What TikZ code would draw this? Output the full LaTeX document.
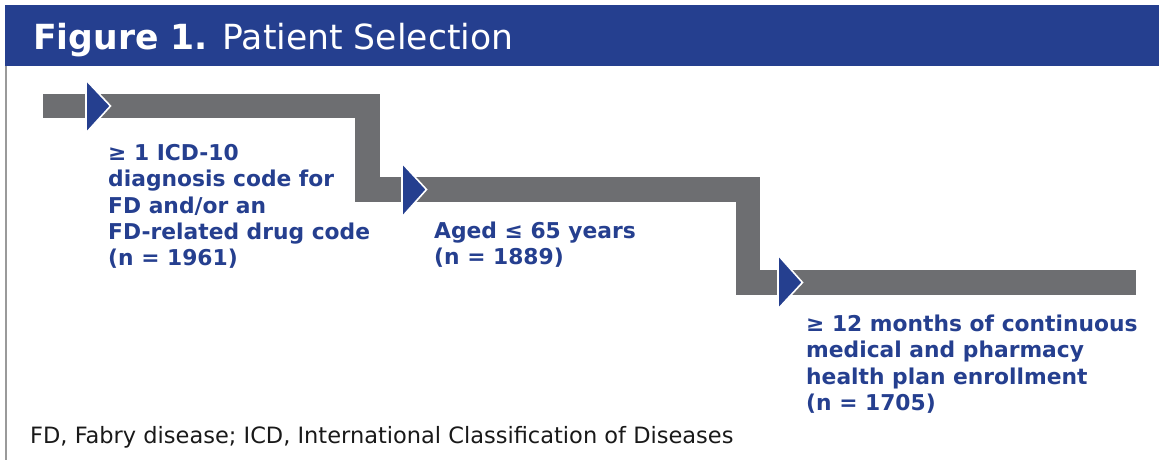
\documentclass[tikz,border=0pt]{standalone}
\usepackage{fontspec}
\setmainfont{DejaVu Sans}
\definecolor{bandblue}{HTML}{253F8F}
\definecolor{stepgray}{HTML}{6D6E71}
\definecolor{framegray}{HTML}{9A9A9A}
\begin{document}
\begin{tikzpicture}[x=1pt, y=-1pt,
	stepbar/.style={draw=stepgray, line width=24.5pt, line join=miter},
	pointer/.style={fill=bandblue, draw=white, line width=1.6pt, line join=miter},
	steptext/.style={anchor=north west, inner sep=0pt, align=left, text=bandblue,
		font=\bfseries\fontsize{21.8}{26.4}\selectfont}]
	\useasboundingbox (0,0) rectangle (1159,460);
	% Titelbalken
	\fill[bandblue] (5,5) rectangle (1159,66);
	\node[text=white, anchor=base west, inner sep=0pt] (title) at (33,50)
		{\fontsize{34.6}{40}\selectfont\textbf{Figure 1.} Patient Selection};
	% linker Rahmen
	\draw[framegray, line width=1.2pt] (6,66) -- (6,460);
	
	% Treppe (graue Balken)
	\draw[stepbar] (43,106) -- (367.5,106) -- (367.5,189.5) -- (748,189.5)
		-- (748,282.5) -- (1136,282.5);
	
	% Pfeile
	\filldraw[pointer] (86,80) -- (110.5,106) -- (86,133) -- cycle;
	\filldraw[pointer] (402,163) -- (426.5,189.5) -- (402,217) -- cycle;
	\filldraw[pointer] (778,255) -- (802.5,282.5) -- (778,309) -- cycle;
	
	% Auswahlschritte
	\node[steptext] (crit1) at (108,144)
		{≥ 1 ICD-10\\diagnosis code for\\FD and/or an\\FD-related drug code\\(n = 1961)};
	\node[steptext] (crit2) at (434,221.8)
		{Aged ≤ 65 years\\(n = 1889)};
	\node[steptext] (crit3) at (806,314.8)
		{≥ 12 months of continuous\\medical and pharmacy\\health plan enrollment\\(n = 1705)};
	
	% Fussnote
	\node[anchor=base west, inner sep=0pt, text=black!90] (note) at (30,443)
		{\fontsize{22.5}{26}\selectfont FD, Fabry disease; ICD, International Classification of Diseases};
\end{tikzpicture}
\end{document}
